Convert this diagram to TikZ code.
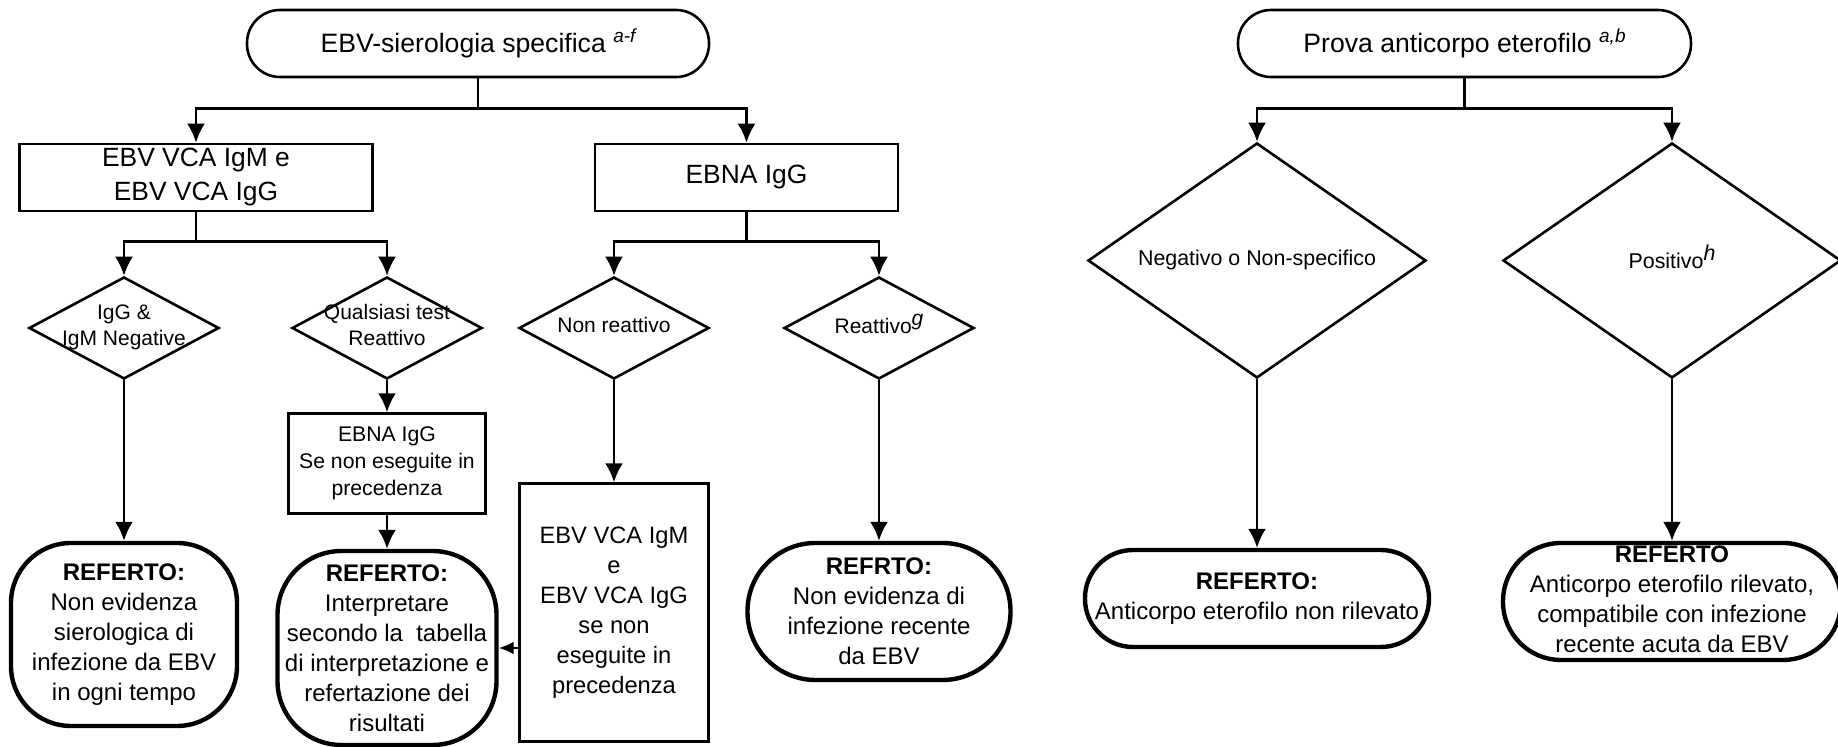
\documentclass[tikz,border=0pt]{standalone}
\usepackage{fontspec}
\setmainfont{Liberation Sans}
\usetikzlibrary{shapes.geometric, arrows.meta, positioning}
\newcommand{\inlbl}[1]{\makebox[0pt]{\smash{\raisebox{-.25em}{\begin{tabular}{@{}c@{}}#1\end{tabular}}}}}
\newcommand{\fnref}[1]{\raisebox{.75ex}{\fontsize{9.5}{11}\selectfont\itshape #1}}
\tikzstyle{heading} = [rectangle, rounded corners=16.5pt, draw, line width=1.3pt, minimum height=33.5pt, inner sep=0pt, font=\fontsize{13.3}{16}\selectfont]
\tikzstyle{test} = [rectangle, draw, line width=1.3pt, minimum height=33.5pt, inner sep=0pt, align=center, font=\fontsize{13.2}{17}\selectfont]
\tikzstyle{outcome} = [diamond, draw, line width=1.3pt, inner sep=0pt, minimum width=95pt, minimum height=51pt, font=\fontsize{10.5}{13}\selectfont]
\tikzstyle{retest} = [rectangle, draw, line width=1.3pt, inner sep=0pt, align=center]
\tikzstyle{report} = [rectangle, rounded corners=30pt, draw, line width=2.2pt, inner sep=0pt, align=center, font=\fontsize{12}{15}\selectfont]
\tikzstyle{flow} = [line width=1.3pt, -{Latex[length=9.5pt, width=9pt]}]
\tikzstyle{shortflow} = [line width=1.3pt, -{Latex[length=7.5pt, width=6.5pt]}]

\begin{document}
\begin{tikzpicture}[x=0.5pt, y=-0.5pt]
  \fill [white] (0,0) rectangle (1838,747);
  \useasboundingbox (0,0) rectangle (1838,747);
  % EBV serology
  \node (sero) [heading, minimum width=231pt] at (478,43.5) {EBV-sierologia specifica \fnref{a-f}};
  \node (vca) [test, minimum width=176.5pt] at (196,177.5) {EBV VCA IgM e\\EBV VCA IgG};
  \node (ebna) [test, minimum width=151.5pt] at (746.5,177.5) {EBNA IgG};
  \draw [flow] (sero.south) -- ++(0,30) -| (vca.north);
  \draw [flow] (sero.south) -- ++(0,30) -| (ebna.north);
  \node (neg) [outcome] at (124,328) {\inlbl{IgG \&\\IgM Negative}};
  \node (anyreact) [outcome] at (387,328) {\inlbl{Qualsiasi test\\Reattivo}};
  \node (nonreact) [outcome] at (614,328) {\inlbl{Non reattivo}};
  \node (react) [outcome] at (879,328) {\inlbl{Reattivo\raisebox{.7ex}{\itshape g}}};
  \draw [flow] (vca.south) -- ++(0,29) -| (neg.north);
  \draw [flow] (vca.south) -- ++(0,29) -| (anyreact.north);
  \draw [flow] (ebna.south) -- ++(0,29) -| (nonreact.north);
  \draw [flow] (ebna.south) -- ++(0,29) -| (react.north);
  \node (ebnaopt) [retest, minimum width=98.5pt, minimum height=50pt, font=\fontsize{10.6}{13.5}\selectfont, below=16pt of anyreact] {EBNA IgG\\Se non eseguite in\\precedenza};
  \node (vcaopt) [retest, minimum width=94.5pt, minimum height=129pt, font=\fontsize{11.85}{15}\selectfont, below=51pt of nonreact] {EBV VCA IgM\\e\\EBV VCA IgG\\se non\\eseguite in\\precedenza};
  \node (rep1) [report, minimum width=113pt, minimum height=91.5pt] at (124,634.5) {\textbf{REFERTO:}\\Non evidenza\\sierologica di\\infezione da EBV\\in ogni tempo};
  \node (rep2) [report, rounded corners=32pt, minimum width=109.5pt, minimum height=97pt] at (387,648) {\textbf{REFERTO:}\\Interpretare\\secondo la\ \ tabella\\di interpretazione e\\refertazione dei\\risultati};
  \node (rep3) [report, rounded corners=34pt, minimum width=131.5pt, minimum height=68.5pt] at (879,611.5) {\textbf{REFRTO:}\\Non evidenza di\\infezione recente\\da EBV};
  \draw [flow] (neg.south) -- (rep1.north);
  \draw [flow] (anyreact.south) -- (ebnaopt.north);
  \draw [flow] (ebnaopt.south) -- (rep2.north);
  \draw [flow] (nonreact.south) -- (vcaopt.north);
  \draw [flow] (react.south) -- (rep3.north);
  \draw [shortflow] (vcaopt.west |- rep2.east) -- (rep2.east);
  % heterophile antibody
  \node (hetero) [heading, minimum width=226.5pt] at (1464.5,43.5) {Prova anticorpo eterofilo \fnref{a,b}};
  \node (hneg) [outcome, minimum width=169pt, minimum height=117.5pt, font=\fontsize{10.7}{13}\selectfont] at (1257,260.5) {\inlbl{Negativo o Non-specifico}};
  \node (hpos) [outcome, minimum width=169pt, minimum height=117.5pt, font=\fontsize{10.7}{13}\selectfont] at (1672,260.5) {\inlbl{Positivo\raisebox{.7ex}{\itshape h}}};
  \draw [flow] (hetero.south) -- ++(0,30) -| (hneg.north);
  \draw [flow] (hetero.south) -- ++(0,30) -| (hpos.north);
  \node (hrep1) [report, rounded corners=24pt, minimum width=172pt, minimum height=48.5pt] at (1257,598.5) {\textbf{REFERTO:}\\Anticorpo eterofilo non rilevato};
  \node (hrep2) [report, rounded corners=29pt, minimum width=169pt, minimum height=58.5pt] at (1672,601.5) {\inlbl{\textbf{REFERTO}\\Anticorpo eterofilo rilevato,\\compatibile con infezione\\recente acuta da EBV}};
  \draw [flow] (hneg.south) -- (hrep1.north);
  \draw [flow] (hpos.south) -- (hrep2.north);
\end{tikzpicture}
\end{document}
